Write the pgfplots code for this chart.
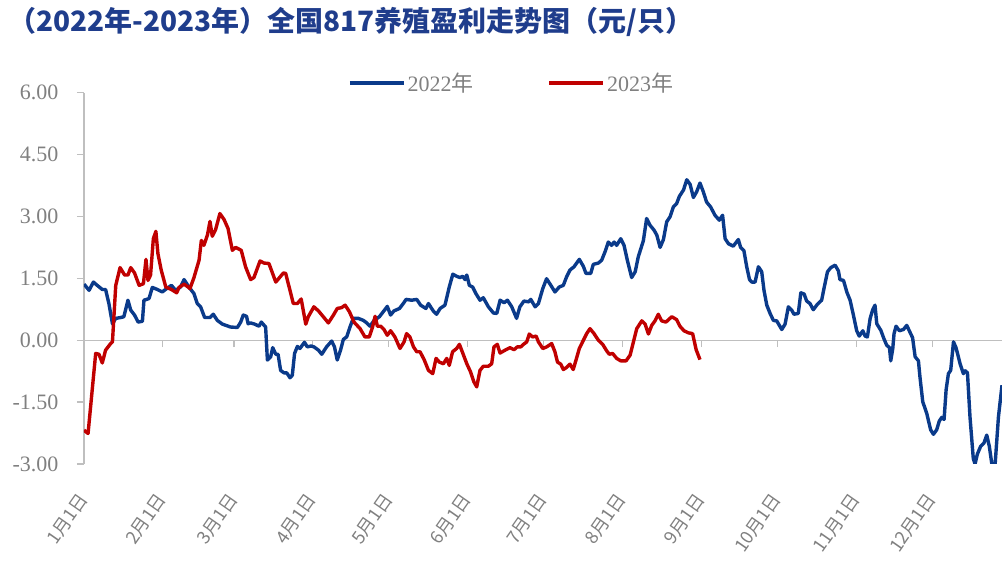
\documentclass[border=0pt]{standalone}
\usepackage{fontspec}
\usepackage{pgfplots}
\pgfplotsset{compat=1.18}
\setmainfont{Liberation Serif}
\newfontfamily\cjk{Noto Sans CJK SC}
\definecolor{sblue}{HTML}{0A3A8A}
\definecolor{sred}{HTML}{C00000}
\definecolor{tblue}{HTML}{1F3D8C}
\definecolor{tgray}{HTML}{808080}
\definecolor{agray}{HTML}{BFBFBF}
\begin{document}
\begin{tikzpicture}
\begin{axis}[
  at={(84pt,96pt)}, anchor=south west,
  scale only axis, width=918pt, height=371.3pt,
  xmin=0, xmax=361.4, ymin=-3, ymax=6,
  axis x line=middle, axis y line=left,
  hide obscured x ticks=false, hide obscured y ticks=false,
  axis line style={-, draw=agray, line width=1.3pt},
  tick style={draw=agray, line width=1.3pt},
  tick align=outside, major tick length=7pt,
  ytick={-3,-1.5,0,1.5,3,4.5,6},
  yticklabel style={/pgf/number format/fixed, /pgf/number format/fixed zerofill, /pgf/number format/precision=2, /pgf/number format/assume math mode=true, font=\fontsize{22}{26}\selectfont, text=tgray},
  yticklabel shift=15pt,
  xtick={0,31,59,90,120,151,181,212,243,273,304,334},
  xticklabels={1月1日,2月1日,3月1日,4月1日,5月1日,6月1日,7月1日,8月1日,9月1日,10月1日,11月1日,12月1日},
  xticklabel style={rotate=55, anchor=east, font=\cjk\fontsize{18}{20}\selectfont, text=tgray, inner sep=1pt},
  xticklabel shift=148pt,
  clip=true,
  legend columns=2,
  legend style={at={(axis description cs:0.2876,1.026)}, anchor=west, draw=none, fill=none, inner sep=0pt, font=\fontsize{22}{26}\selectfont, text=tgray, /tikz/every even column/.append style={column sep=72pt}},
  legend image code/.code={\draw[#1, line width=3.4pt] (0pt,0pt) -- (54pt,0pt);},
]
\addplot[sblue, line width=3.4pt, line join=round] table {
0 1.36
2 1.21
3.7 1.41
5.2 1.33
7.2 1.23
8.5 1.23
9.8 0.89
11.2 0.40
12.5 0.53
14.4 0.55
15.7 0.57
17.3 0.97
18.4 0.73
19.9 0.61
21.3 0.44
23 0.46
23.6 0.97
25.6 1.01
26.9 1.28
28.9 1.23
30.8 1.17
32.5 1.25
34.4 1.33
36.1 1.21
38 1.29
39.4 1.47
41.3 1.29
43.3 1.13
44.6 0.89
45.9 0.81
47.5 0.55
49.6 0.55
50.9 0.63
52.5 0.48
54.5 0.39
57.7 0.32
60.4 0.31
61.7 0.44
62.7 0.61
64 0.58
64.6 0.40
65.6 0.42
67.2 0.39
68.9 0.34
69.8 0.44
71.5 0.32
72.2 -0.48
73.5 -0.40
74.3 -0.18
75.5 -0.34
76.4 -0.34
77.4 -0.73
78.7 -0.79
79.8 -0.79
81.1 -0.91
82 -0.85
82.9 -0.32
84 -0.15
85 -0.20
86.8 -0.05
87.9 -0.16
89.5 -0.14
90.5 -0.16
92.3 -0.24
93.6 -0.34
95.5 -0.16
97.5 -0.02
98.6 -0.16
99.7 -0.48
101 -0.24
102.1 0.02
103.4 0.08
104.7 0.32
106 0.53
108 0.53
110 0.48
111.3 0.42
112.6 0.34
114.2 0.48
116.3 0.57
117.8 0.69
119.4 0.82
120.7 0.61
122 0.71
124.2 0.77
125.7 0.89
126.8 0.99
129 0.97
131 0.99
132.5 0.85
134.6 0.77
135.6 0.89
137.5 0.71
138.8 0.63
140.2 0.77
142.1 0.85
143.8 1.29
145.2 1.60
146.7 1.55
148 1.52
149.1 1.55
150 1.47
150.7 1.58
151.7 1.33
153 1.29
154.3 1.13
155.9 0.97
157.2 1.03
159.2 0.81
161.2 0.66
162.5 0.65
163.8 0.97
165.4 0.91
166.7 0.97
168.4 0.81
170.3 0.53
171.6 0.81
173.2 0.95
175 0.93
175.9 0.99
177.6 0.81
178.9 0.89
180.6 1.25
182.1 1.49
183.5 1.36
185.4 1.17
187.1 1.29
188.7 1.33
190 1.54
191.3 1.70
192.9 1.78
195 1.96
196.6 1.79
197.6 1.62
199.5 1.62
200.5 1.84
202.5 1.87
203.8 1.94
205.1 2.14
206.4 2.38
207.7 2.30
208.7 2.38
209.7 2.30
211.3 2.46
212.6 2.30
213.9 1.94
215.6 1.52
217 1.66
218.2 2.02
220.2 2.41
221.5 2.95
222.8 2.79
224.4 2.67
225.5 2.55
226.8 2.25
228.1 2.44
229.4 2.87
230.7 2.99
232 3.23
233.3 3.31
234.4 3.49
236 3.64
237.3 3.89
238.6 3.78
239.9 3.46
241.2 3.60
242.5 3.81
243.8 3.60
245.1 3.35
246.7 3.23
248.4 3.03
250.1 2.91
251.4 3.03
252.4 2.46
253.7 2.34
255.6 2.28
257.6 2.44
258.5 2.25
259.8 2.17
260.9 1.78
262 1.47
262.9 1.41
264.2 1.41
265.5 1.78
266.8 1.66
267.7 1.21
268.8 0.85
270.1 0.65
271.4 0.48
272.7 0.47
274.7 0.26
276 0.39
277.3 0.81
278.6 0.73
279.5 0.63
281.2 0.65
282.2 1.15
283.5 1.12
284.5 0.95
285.8 0.89
287.1 0.74
288.7 0.87
290.4 0.97
291.3 1.25
292.7 1.66
294 1.76
295.7 1.82
297 1.68
297.6 1.47
299 1.45
300.3 1.17
301.6 0.97
302.9 0.61
304.2 0.23
305.2 0.10
306.6 0.23
307.5 0.10
308.4 0.08
309.5 0.53
310.5 0.74
311.4 0.85
312.1 0.40
313.7 0.24
314.9 0.04
316 -0.12
317.1 -0.18
317.6 -0.50
318.4 -0.20
318.9 0.16
319.7 0.34
321 0.23
322.6 0.26
323.9 0.36
324.9 0.23
326.2 0.06
327.2 -0.40
328.5 -0.50
329.1 -0.89
330.2 -1.49
331.8 -1.78
333.3 -2.17
334.4 -2.28
335.7 -2.17
336.7 -1.96
337.7 -1.87
338.6 -1.92
339.4 -1.20
340.3 -0.81
341.2 -0.73
342.3 -0.04
343.3 -0.18
344.9 -0.57
346.2 -0.81
346.9 -0.74
347.8 -0.79
348.8 -1.86
350.1 -2.87
350.8 -3.00
351.7 -2.76
353 -2.57
354.3 -2.49
355.4 -2.30
356.4 -2.57
357.4 -3.00
358.7 -3.00
360 -1.86
361.4 -1.09
};
\addlegendentry{2022{\cjk 年}}
\addplot[sred, line width=3.4pt, line join=round] table {
0 -2.18
1.6 -2.26
4.6 -0.32
5.9 -0.34
7.2 -0.55
8.5 -0.24
10.5 -0.08
11.2 -0.04
12.5 1.33
14.2 1.76
16 1.58
17.3 1.58
18.4 1.76
19.9 1.63
21.7 1.33
23.4 1.37
24.4 1.96
25.2 1.45
26.2 1.58
27.3 2.46
28.3 2.64
29.1 2.10
30.4 1.70
32.2 1.29
34.4 1.23
36.5 1.15
37.4 1.28
39.4 1.36
41 1.29
41.7 1.25
43.3 1.52
45.3 1.94
46.2 2.42
47.2 2.30
48.6 2.55
49.6 2.88
50.5 2.52
51.8 2.68
53.5 3.07
55.1 2.93
56.7 2.71
58.4 2.18
59.7 2.25
61.9 2.18
63.6 1.78
65.6 1.47
66.9 1.52
69.3 1.92
70.9 1.87
72.8 1.86
75.5 1.41
78.5 1.63
79.4 1.62
82.4 0.89
84 0.89
85.5 1.00
87.3 0.39
88.3 0.57
90.5 0.81
92.3 0.71
94.2 0.57
96.2 0.42
98.2 0.61
99.7 0.77
101.4 0.79
102.8 0.85
104.5 0.69
106.3 0.44
108.7 0.28
110.6 0.08
112.3 0.08
113.6 0.32
114.6 0.58
115.5 0.34
116.8 0.34
118.1 0.26
119.4 0.12
120.7 0.23
122.4 0.08
124.4 -0.20
126 -0.04
127 0.16
128.3 0.08
129.7 -0.16
131 -0.28
132.3 -0.28
133.9 -0.47
135.6 -0.73
137.3 -0.81
138.6 -0.44
139.9 -0.53
141.5 -0.57
142.8 -0.44
143.8 -0.61
145.1 -0.28
146.7 -0.20
147.8 -0.10
149.1 -0.31
150.7 -0.57
152.2 -0.77
153.5 -1.01
154.6 -1.13
155.9 -0.73
157.2 -0.63
159.2 -0.63
160.5 -0.57
161.4 -0.16
162.7 -0.10
163.8 -0.31
165.8 -0.24
167.7 -0.18
169.3 -0.23
170.6 -0.16
172 -0.16
173 -0.10
174.3 -0.04
175.3 0.15
176.6 0.08
178 0.10
178.9 -0.04
180.6 -0.20
182.2 -0.16
184.1 -0.08
185.4 -0.28
186.4 -0.53
187.7 -0.58
188.7 -0.71
190 -0.66
191.3 -0.58
192.6 -0.71
193.7 -0.48
195 -0.20
196.6 0.00
197.9 0.16
199.2 0.28
200.8 0.16
202.5 0.00
204.2 -0.10
205.8 -0.26
206.8 -0.34
208.1 -0.32
209.7 -0.44
211.3 -0.50
213.4 -0.50
215 -0.36
216.3 -0.04
217.6 0.28
219.6 0.47
220.9 0.39
222.2 0.15
223.5 0.36
224.8 0.47
226.1 0.63
227.4 0.47
229.1 0.44
231.4 0.57
233.3 0.50
234.6 0.34
236.2 0.23
237.9 0.18
239.6 0.16
241 -0.23
242.5 -0.47
};
\addlegendentry{2023{\cjk 年}}
\end{axis}
\node[anchor=west, inner sep=0pt, text=tblue, font=\cjk\bfseries\fontsize{28}{32}\selectfont] at (8pt,538pt) {（2022年-2023年）全国817养殖盈利走势图（元/只）};
\pgfresetboundingbox
\useasboundingbox (0pt,0pt) rectangle (1002pt,560pt);
\end{tikzpicture}
\end{document}
